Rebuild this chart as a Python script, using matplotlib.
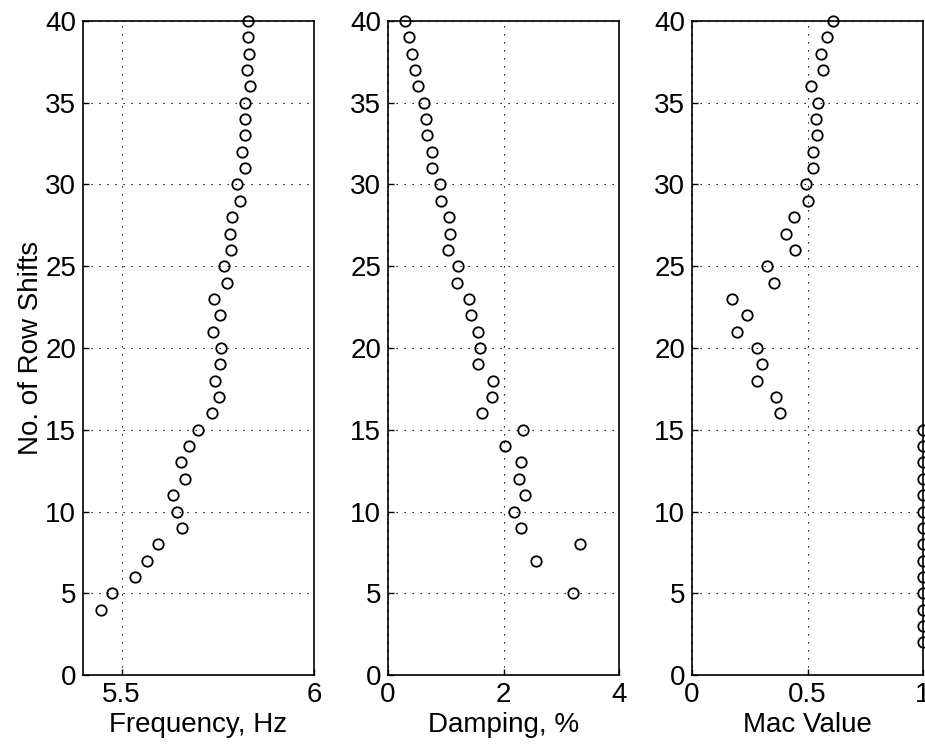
import matplotlib
matplotlib.use('Agg')
import matplotlib.pyplot as plt

plt.rcParams['font.family'] = ['Liberation Sans', 'DejaVu Sans']

# row shifts for each panel
shifts_freq = list(range(4, 41))
freq = [5.446, 5.476, 5.536, 5.565, 5.595, 5.658, 5.644, 5.634, 5.665, 5.654,
        5.675, 5.699, 5.735, 5.752, 5.742, 5.755, 5.758, 5.738, 5.755, 5.739,
        5.774, 5.766, 5.785, 5.781, 5.787, 5.809, 5.801, 5.820, 5.814, 5.820,
        5.820, 5.820, 5.833, 5.827, 5.830, 5.828, 5.828]

shifts_damp = [5] + list(range(7, 41))
damp = [3.21, 2.56, 3.33, 2.30, 2.19, 2.38, 2.27, 2.30, 2.02, 2.34,
        1.62, 1.80, 1.81, 1.56, 1.59, 1.56, 1.43, 1.41, 1.19, 1.21,
        1.04, 1.08, 1.05, 0.92, 0.90, 0.77, 0.76, 0.68, 0.66, 0.63,
        0.52, 0.47, 0.41, 0.37, 0.30]

shifts_mac = list(range(2, 41))
mac = [1.0] * 14 + [0.381, 0.362, 0.283, 0.304, 0.283, 0.196, 0.240, 0.175,
                    0.355, 0.323, 0.446, 0.405, 0.443, 0.501, 0.492, 0.522,
                    0.525, 0.540, 0.535, 0.547, 0.514, 0.566, 0.557, 0.583,
                    0.612]

panels = [
    (freq, shifts_freq, (5.4, 6), [5.5, 6], ['5.5', '6'], 'Frequency, Hz', 83),
    (damp, shifts_damp, (0, 4), [0, 2, 4], ['0', '2', '4'], 'Damping, %', 388),
    (mac, shifts_mac, (0, 1), [0, 0.5, 1], ['0', '0.5', '1'], 'Mac Value', 692),
]

W, H = 925, 748
fig = plt.figure(figsize=(W / 100, H / 100), dpi=100)

for xs, ys, xlim, xt, xtl, xlabel, left in panels:
    ax = fig.add_axes([left / W, 73 / H, 231 / W, 654 / H])
    ax.plot(xs, ys, 'o', mfc='none', mec='black', ms=7.5, mew=1.3,
            clip_on=False, zorder=5)
    ax.set_xlim(*xlim)
    ax.set_ylim(0, 40)
    ax.set_xticks(xt)
    ax.set_xticklabels(xtl)
    ax.set_yticks(range(0, 41, 5))
    ax.grid(True, color='black', linestyle=(0, (1.2, 6)), linewidth=0.8)
    ax.tick_params(direction='in', length=4, width=1, labelsize=20,
                   pad=5)
    for s in ax.spines.values():
        s.set_linewidth(1.2)
    ax.set_xlabel(xlabel, fontsize=20, labelpad=3)
    if left == 83:
        ax.set_ylabel('No. of Row Shifts', fontsize=20, labelpad=1)

fig.savefig('out.png', dpi=100)
